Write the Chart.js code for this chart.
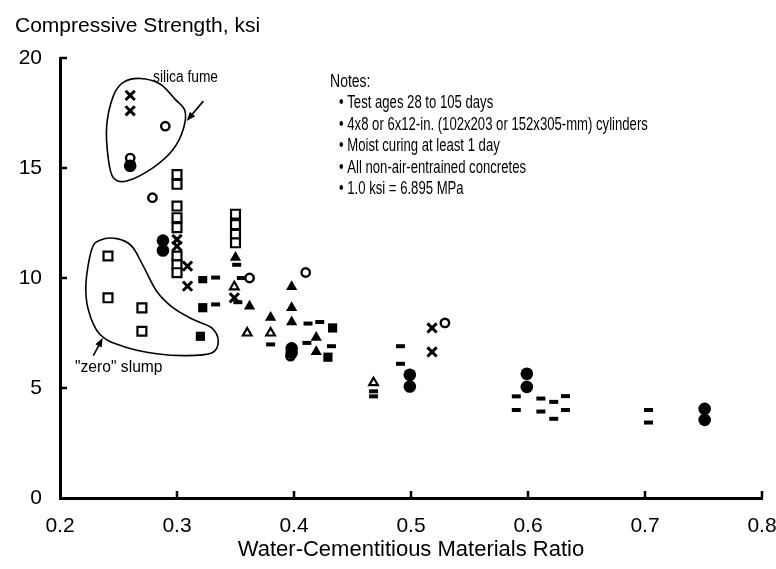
<!DOCTYPE html>
<html>
<head>
<meta charset="utf-8">
<script src="https://cdn.jsdelivr.net/npm/chart.js@4.4.1/dist/chart.umd.min.js"></script>
<style>
  html, body { margin: 0; padding: 0; background: #fff; }
  #wrap { width: 776px; height: 569px; }
</style>
</head>
<body>
<div id="wrap"><canvas id="strength-chart" width="776" height="569"></canvas></div>
<script>
// Compressive strength vs water-cementitious materials ratio
const xTicks = [0.2, 0.3, 0.4, 0.5, 0.6, 0.7, 0.8];
const yTicks = [0, 5, 10, 15, 20];

// [w/cm, ksi], one list per marker type
const filledCircles = [
  [0.26, 15.1], [0.288, 11.7], [0.288, 11.25], [0.398, 6.8], [0.398, 6.6],
  [0.499, 5.6], [0.499, 5.07], [0.599, 5.65], [0.599, 5.05], [0.751, 4.05], [0.751, 3.55]
];
const openCircles = [
  [0.26, 15.45], [0.29, 16.9], [0.279, 13.65], [0.362, 10.0], [0.41, 10.25],
  [0.529, 7.96], [0.397, 6.45]
];
const crosses = [
  [0.26, 18.3], [0.26, 17.6], [0.30, 11.75], [0.30, 11.45], [0.309, 10.54],
  [0.309, 9.63], [0.349, 9.1], [0.518, 7.73], [0.518, 6.64]
];
const openSquares = [
  [0.241, 11.0], [0.241, 9.1], [0.27, 8.64], [0.27, 7.58],
  [0.30, 14.7], [0.30, 14.26], [0.30, 13.27], [0.30, 12.74], [0.30, 12.29],
  [0.30, 11.0], [0.30, 10.6], [0.30, 10.24],
  [0.35, 12.9], [0.35, 12.43], [0.35, 11.98], [0.35, 11.6]
];
const filledSquares = [
  [0.32, 7.35], [0.322, 8.65], [0.433, 7.73], [0.429, 6.4]
];
const filledTriangles = [
  [0.35, 10.93], [0.362, 8.72], [0.38, 8.2], [0.398, 9.6], [0.398, 8.65],
  [0.398, 8.0], [0.419, 7.3], [0.419, 6.65]
];
const openTriangles = [
  [0.349, 9.6], [0.36, 7.5], [0.38, 7.5], [0.468, 5.24]
];
const dashes = [
  [0.322, 10.0], [0.322, 9.85], [0.333, 10.02], [0.333, 8.8], [0.351, 10.6],
  [0.355, 10.0], [0.352, 8.9], [0.38, 6.98], [0.412, 7.93], [0.422, 8.0],
  [0.411, 7.05], [0.432, 6.9], [0.468, 4.85], [0.468, 4.62], [0.491, 6.9],
  [0.491, 6.1], [0.59, 4.62], [0.59, 4.0], [0.611, 4.52], [0.611, 3.93],
  [0.622, 4.37], [0.622, 3.6], [0.632, 4.63], [0.632, 4.0], [0.703, 4.0], [0.703, 3.43]
];

// outlines of the two circled groups, in axis units
const silicaFumeLoop = [
  [0.2684, 19.07], [0.2855, 18.82], [0.2983, 18.13], [0.3068, 17.6], [0.3054, 16.77],
  [0.2968, 15.85], [0.2797, 15.02], [0.257, 14.41], [0.2456, 14.56], [0.2413, 15.4],
  [0.2399, 16.92], [0.2456, 18.28], [0.2541, 18.89]
];
const zeroSlumpLoop = [
  [0.2271, 11.3], [0.2342, 11.72], [0.2485, 11.79], [0.2613, 11.45], [0.2712, 10.54],
  [0.2826, 9.4], [0.2968, 8.64], [0.3139, 8.11], [0.3297, 7.73], [0.3353, 7.12],
  [0.3297, 6.59], [0.3083, 6.47], [0.2826, 6.56], [0.2541, 6.89], [0.2342, 7.43],
  [0.2242, 8.56], [0.2222, 9.78]
];

const notes = [
  'Notes:',
  '• Test ages 28 to 105 days',
  '• 4x8 or 6x12-in. (102x203 or 152x305-mm) cylinders',
  '• Moist curing at least 1 day',
  '• All non-air-entrained concretes',
  '• 1.0 ksi = 6.895 MPa'
];

const mainFont = "'Liberation Sans', Arial, Helvetica, sans-serif";

function series(label, pts, style) {
  return Object.assign({ label, data: pts.map(([x, y]) => ({ x, y })) }, style);
}

function smoothLoop(ctx, pts) {
  const n = pts.length;
  ctx.beginPath();
  ctx.moveTo(pts[0][0], pts[0][1]);
  for (let i = 0; i < n; i++) {
    const p0 = pts[(i - 1 + n) % n], p1 = pts[i], p2 = pts[(i + 1) % n], p3 = pts[(i + 2) % n];
    ctx.bezierCurveTo(
      p1[0] + (p2[0] - p0[0]) / 6, p1[1] + (p2[1] - p0[1]) / 6,
      p2[0] - (p3[0] - p1[0]) / 6, p2[1] - (p3[1] - p1[1]) / 6,
      p2[0], p2[1]);
  }
  ctx.closePath();
  ctx.stroke();
}

function arrow(ctx, x1, y1, x2, y2) {
  const a = Math.atan2(y2 - y1, x2 - x1);
  ctx.beginPath();
  ctx.moveTo(x1, y1);
  ctx.lineTo(x2 - Math.cos(a) * 5, y2 - Math.sin(a) * 5);
  ctx.stroke();
  ctx.beginPath();
  ctx.moveTo(x2, y2);
  ctx.lineTo(x2 - Math.cos(a) * 9 + Math.sin(a) * 3.5, y2 - Math.sin(a) * 9 - Math.cos(a) * 3.5);
  ctx.lineTo(x2 - Math.cos(a) * 9 - Math.sin(a) * 3.5, y2 - Math.sin(a) * 9 + Math.cos(a) * 3.5);
  ctx.closePath();
  ctx.fill();
}

// the original lettering is condensed; squeeze the text horizontally
function narrowText(ctx, text, x, y, squeeze) {
  ctx.save();
  ctx.translate(x, y);
  ctx.scale(squeeze, 1);
  ctx.fillText(text, 0, 0);
  ctx.restore();
}

const extras = {
  id: 'extras',
  afterDraw(chart) {
    const { ctx, chartArea, scales: { x, y } } = chart;
    const px = p => [x.getPixelForValue(p[0]), y.getPixelForValue(p[1])];
    ctx.save();
    ctx.strokeStyle = '#000';
    ctx.fillStyle = '#000';

    // inward tick marks
    ctx.lineWidth = 2.5;
    ctx.beginPath();
    xTicks.slice(1).forEach(v => {
      const xx = x.getPixelForValue(v);
      ctx.moveTo(xx, chartArea.bottom);
      ctx.lineTo(xx, chartArea.bottom - 7);
    });
    yTicks.slice(1).forEach(v => {
      const yy = y.getPixelForValue(v);
      ctx.moveTo(chartArea.left, yy);
      ctx.lineTo(chartArea.left + 7, yy);
    });
    ctx.stroke();

    // y axis title, horizontal above the axis
    ctx.font = '21px ' + mainFont;
    ctx.textBaseline = 'alphabetic';
    ctx.textAlign = 'left';
    ctx.fillText('Compressive Strength, ksi', 15, 32);

    // circled groups
    ctx.lineWidth = 1.6;
    smoothLoop(ctx, silicaFumeLoop.map(px));
    smoothLoop(ctx, zeroSlumpLoop.map(px));

    const a1 = px([0.3225, 18.04]), a2 = px([0.3083, 17.14]);
    arrow(ctx, a1[0], a1[1], a2[0], a2[1]);
    const b1 = px([0.2285, 6.47]), b2 = px([0.2365, 7.28]);
    arrow(ctx, b1[0], b1[1], b2[0], b2[1]);

    ctx.textBaseline = 'middle';
    ctx.font = '16px ' + mainFont;
    const s = px([0.2795, 19.13]);
    narrowText(ctx, 'silica fume', s[0], s[1], 0.86);
    ctx.font = '17px ' + mainFont;
    const z = px([0.2128, 5.92]);
    narrowText(ctx, '"zero" slump', z[0], z[1], 0.92);

    // notes block
    ctx.font = '17.5px ' + mainFont;
    const n0 = px([0.4308, 18.9]);
    notes.forEach((line, i) => {
      const indent = i === 0 ? 0 : 9;
      narrowText(ctx, line, n0[0] + indent, n0[1] + i * 21.4, i === 0 ? 0.8 : 0.75);
    });
    ctx.restore();
  }
};

new Chart(document.getElementById('strength-chart'), {
  type: 'scatter',
  data: {
    datasets: [
      series('filled circle', filledCircles, { pointStyle: 'circle', pointRadius: 6.3, pointBackgroundColor: '#000', pointBorderWidth: 0 }),
      series('filled square', filledSquares, { pointStyle: 'rect', pointRadius: 6.5, pointBackgroundColor: '#000', pointBorderWidth: 0 }),
      series('filled triangle', filledTriangles, { pointStyle: 'triangle', pointRadius: 6.5, pointBackgroundColor: '#000', pointBorderWidth: 0 }),
      series('cross', crosses, { pointStyle: 'crossRot', pointRadius: 6.5, pointBorderColor: '#000', pointBorderWidth: 3 }),
      series('dash', dashes, { pointStyle: 'line', pointRadius: 4.5, pointBorderColor: '#000', pointBorderWidth: 4 }),
      series('open circle', openCircles, { pointStyle: 'circle', pointRadius: 4.2, pointBackgroundColor: '#fff', pointBorderColor: '#000', pointBorderWidth: 2.4 }),
      series('open triangle', openTriangles, { pointStyle: 'triangle', pointRadius: 5, pointBackgroundColor: '#fff', pointBorderColor: '#000', pointBorderWidth: 2.2 }),
      series('open square', openSquares, { pointStyle: 'rect', pointRadius: 6.3, pointBackgroundColor: '#fff', pointBorderColor: '#000', pointBorderWidth: 2.2 })
    ]
  },
  options: {
    responsive: false,
    animation: false,
    events: [],
    clip: false,
    layout: { padding: { left: 0, top: 58, right: 14, bottom: 0 } },
    plugins: {
      legend: { display: false },
      tooltip: { enabled: false }
    },
    scales: {
      x: {
        type: 'linear',
        min: 0.2,
        max: 0.8,
        afterFit: s => { s.height = 71; s.paddingLeft = 0; s.paddingRight = 0; },
        afterBuildTicks: s => { s.ticks = xTicks.map(v => ({ value: v })); },
        grid: { display: false, drawTicks: false },
        border: { display: true, color: '#000', width: 3 },
        ticks: { color: '#000', padding: 16, font: { family: mainFont, size: 21 }, callback: v => v.toFixed(1) },
        title: { display: true, text: 'Water-Cementitious Materials Ratio', color: '#000', font: { family: mainFont, size: 22 }, padding: { top: 0, bottom: 6 } }
      },
      y: {
        type: 'linear',
        min: 0,
        max: 20,
        afterFit: s => { s.width = 60; },
        afterBuildTicks: s => { s.ticks = yTicks.map(v => ({ value: v })); },
        grid: { display: false, drawTicks: false },
        border: { display: true, color: '#000', width: 3 },
        ticks: { color: '#000', padding: 18, font: { family: mainFont, size: 21 } }
      }
    }
  },
  plugins: [extras]
});
</script>
</body>
</html>
